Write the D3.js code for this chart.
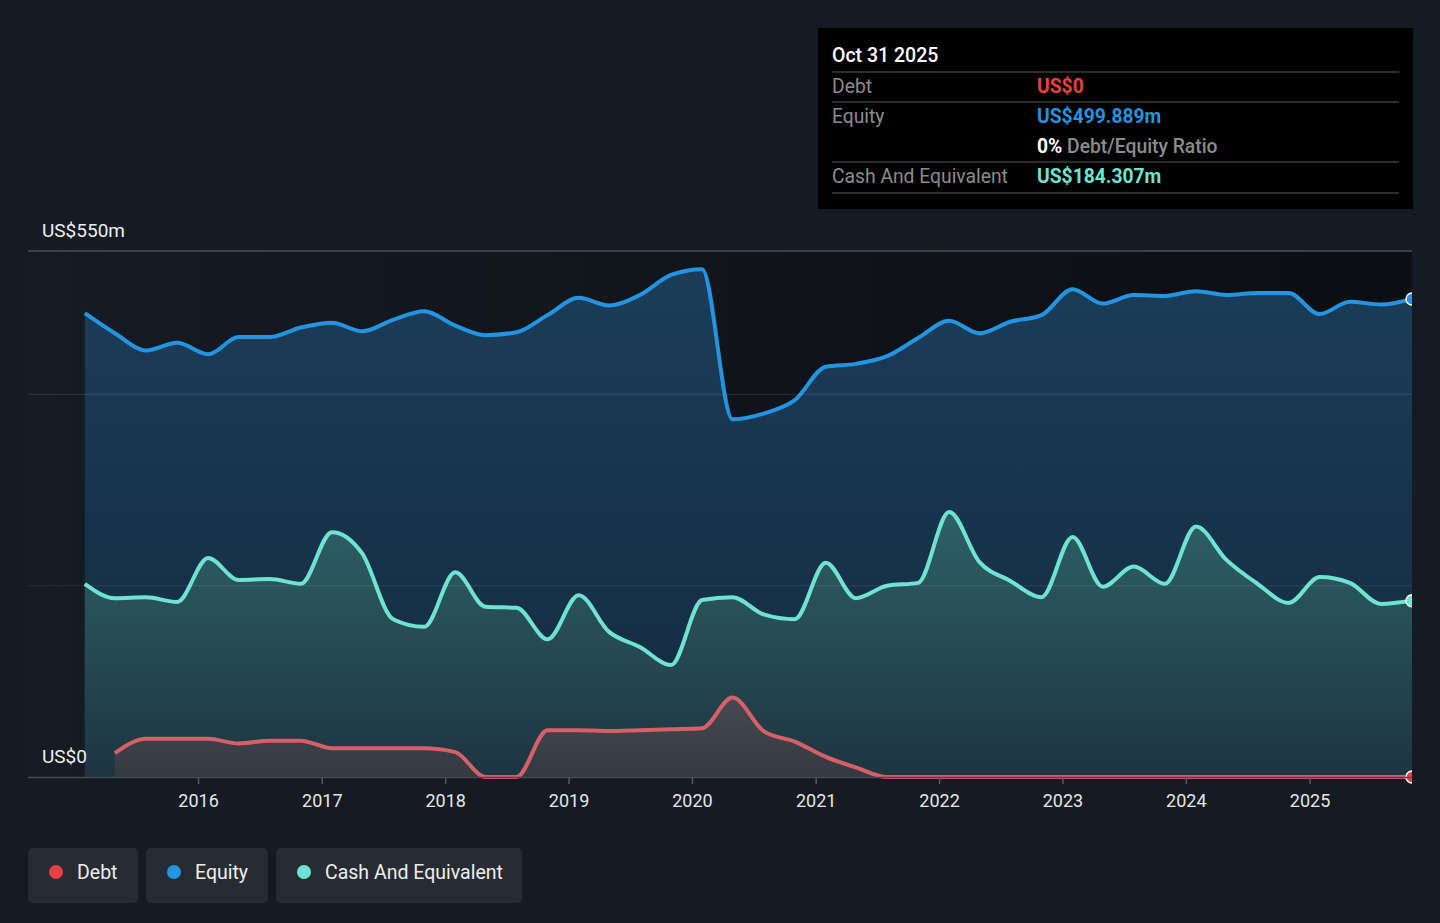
<!DOCTYPE html>
<html><head><meta charset="utf-8">
<script src="https://cdn.jsdelivr.net/npm/d3@7"></script>
<style>
html,body{margin:0;padding:0;background:#151a23;}
svg{display:block;font-family:Roboto,"Noto Sans",sans-serif;}
</style></head>
<body>
<svg id="c" width="1440" height="923"></svg>
<script>
// ---- data ----
const quarters = [
"2015-01-31","2015-04-30","2015-07-31","2015-10-31",
"2016-01-31","2016-04-30","2016-07-31","2016-10-31",
"2017-01-31","2017-04-30","2017-07-31","2017-10-31",
"2018-01-31","2018-04-30","2018-07-31","2018-10-31",
"2019-01-31","2019-04-30","2019-07-31","2019-10-31",
"2020-01-31","2020-04-30","2020-07-31","2020-10-31",
"2021-01-31","2021-04-30","2021-07-31","2021-10-31",
"2022-01-31","2022-04-30","2022-07-31","2022-10-31",
"2023-01-31","2023-04-30","2023-07-31","2023-10-31",
"2024-01-31","2024-04-30","2024-07-31","2024-10-31",
"2025-01-31","2025-04-30","2025-07-31","2025-10-31"];
const equity = [485,464,446,454, 442,460,460,470, 475,466,478,487, 472,462,465,483,
  501,493,504,525, 531,374,380,394, 429,432,440,459, 477,464,476,483,
  510,495,504,503, 508,504,506,506, 484,497,494,499.889];
const cash = [202,187,188,183, 229,206,207,202, 256,234,165,157, 214,178,177,144,
  190,152,136,117, 185,188,170,165, 224,187,200,203, 277,225,205,188,
  251,199,220,202, 262,227,202,182, 209,203,181,184.307];
const debt = [null,25,40,40, 40,35,38,38, 30,30,30,30, 26,0,0,49,
  49,48,49,50, 51,83,48,37, 21,10,0,0, 0,0,0,0,
  0,0,0,0, 0,0,0,0, 0,0,0,0];
const yearTicks = [2016,2017,2018,2019,2020,2021,2022,2023,2024,2025];
const yGridValues = [200,400];
const yLabelValues = [0,550];
const legendItems = ["Debt","Equity","Cash And Equivalent"];

const colors = {debt:"#e64141", debtLine:"#d65f68", equity:"#2394df", cash:"#6fe3d1"};

// ---- scales ----
const svg = d3.select("#c");
const L=28, R=1412, T=251, B=777;
const x = d3.scaleUtc().domain([new Date(Date.UTC(2014,7,16)), new Date(Date.UTC(2025,9,31))]).range([L,R]);
const y = d3.scaleLinear().domain([0,550]).range([B,T]);
const dates = quarters.map(s=>new Date(s+"T00:00:00Z"));

const defs = svg.append("defs");
const bgG = defs.append("linearGradient").attr("id","bgG").attr("x1","0").attr("x2","1").attr("y1","0").attr("y2","0");
bgG.append("stop").attr("offset","0").attr("stop-color","#161b24");
bgG.append("stop").attr("offset","1").attr("stop-color","#0b0e12");
const eqG = defs.append("linearGradient").attr("id","eqG").attr("x1","0").attr("x2","0").attr("y1","0").attr("y2","1");
eqG.append("stop").attr("offset","0").attr("stop-color","#1b3d5a");
eqG.append("stop").attr("offset","1").attr("stop-color","#142a3d");
const caG = defs.append("linearGradient").attr("id","caG").attr("x1","0").attr("x2","0").attr("y1","0").attr("y2","1");
caG.append("stop").attr("offset","0").attr("stop-color","#2e6067");
caG.append("stop").attr("offset","1").attr("stop-color","#1d3540");
const deG = defs.append("linearGradient").attr("id","deG").attr("x1","0").attr("x2","0").attr("y1","0").attr("y2","1");
deG.append("stop").attr("offset","0").attr("stop-color","#454952");
deG.append("stop").attr("offset","1").attr("stop-color","#353941");
defs.append("clipPath").attr("id","clip").append("rect").attr("x",L).attr("y",T-20).attr("width",R-L).attr("height",B-T+40);

// plot background
svg.append("rect").attr("x",L).attr("y",T).attr("width",R-L).attr("height",B-T).attr("fill","url(#bgG)");

const g = svg.append("g").attr("clip-path","url(#clip)");
const curve = d3.curveMonotoneX;
function series(vals){ return dates.map((d,i)=>({d, v: vals[i]})); }
const eqS = series(equity), caS = series(cash), deS = series(debt);
const area = d3.area().defined(p=>p.v!=null).x(p=>x(p.d)).y0(y(0)).y1(p=>y(p.v)).curve(curve);
const line = d3.line().defined(p=>p.v!=null).x(p=>x(p.d)).y(p=>y(p.v)).curve(curve);

g.append("path").attr("d",area(eqS)).attr("fill","url(#eqG)");
g.append("path").attr("d",area(caS)).attr("fill","url(#caG)");
g.append("path").attr("d",area(deS)).attr("fill","url(#deG)");

// grid lines
svg.selectAll(".grid").data(yGridValues).join("line")
  .attr("x1",L).attr("x2",R).attr("y1",d=>y(d)).attr("y2",d=>y(d))
  .attr("stroke","rgba(255,255,255,0.09)").attr("stroke-width",1.2);
svg.append("line").attr("x1",L).attr("x2",R).attr("y1",y(550)).attr("y2",y(550)).attr("stroke","#4a4f57").attr("stroke-width",1.5);
svg.append("line").attr("x1",L).attr("x2",R).attr("y1",y(0)+0.5).attr("y2",y(0)+0.5).attr("stroke","#444952").attr("stroke-width",1.5);

g.append("path").attr("d",line(eqS)).attr("fill","none").attr("stroke",colors.equity).attr("stroke-width",4);
g.append("path").attr("d",line(caS)).attr("fill","none").attr("stroke",colors.cash).attr("stroke-width",4);
g.append("path").attr("d",line(deS)).attr("fill","none").attr("stroke",colors.debtLine).attr("stroke-width",4);

// end dots
const last = dates.length-1;
[[equity,colors.equity],[cash,colors.cash],[debt,colors.debt]].forEach(([vals,c])=>{
  g.append("circle").attr("cx",x(dates[last])).attr("cy",y(vals[last])).attr("r",6)
   .attr("fill",c).attr("stroke","#fff").attr("stroke-width",1.5);
});

// x axis
const xAxis = d3.axisBottom(x).tickValues(yearTicks.map(yv=>new Date(Date.UTC(yv,0,1))))
  .tickFormat(d3.utcFormat("%Y")).tickSize(6).tickPadding(10);
const ax = svg.append("g").attr("transform",`translate(0,${B+1})`).call(xAxis);
ax.select(".domain").remove();
ax.selectAll(".tick line").attr("stroke","#555a62").attr("stroke-width",1.5);
ax.selectAll(".tick text").attr("fill","#e6e6e6").attr("font-size",18).attr("font-family","Roboto");

// y labels
svg.selectAll(".ylab").data(yLabelValues).join("text")
  .attr("x",42).attr("y",d=>y(d)-14).attr("fill","#eeeeee").attr("font-size",19)
  .text(d=>d===0?"US$0":`US$${d}m`);

// tooltip box
const tb = svg.append("g");
tb.append("rect").attr("x",818).attr("y",28).attr("width",595).attr("height",181).attr("fill","#000");
tb.append("text").attr("x",832).attr("y",62).attr("fill","#fff").attr("font-size",19.5).attr("font-weight",500).text("Oct 31 2025");
[72,102,162,193].forEach(yy=>tb.append("line").attr("x1",832).attr("x2",1399).attr("y1",yy).attr("y2",yy).attr("stroke","#3d3d3d").attr("stroke-width",1.5));
const rows = [
  {label:"Debt", value:"US$0", color:colors.debt, y:93},
  {label:"Equity", value:"US$499.889m", color:colors.equity, y:123},
  {label:"Cash And Equivalent", value:"US$184.307m", color:colors.cash, y:183}
];
rows.forEach(r=>{
  tb.append("text").attr("x",832).attr("y",r.y).attr("fill","#8c8c8c").attr("font-size",19.3).text(r.label);
  tb.append("text").attr("x",1037).attr("y",r.y).attr("fill",r.color).attr("font-size",19.3).attr("font-weight",700).text(r.value);
});
const rt = tb.append("text").attr("x",1037).attr("y",153).attr("font-size",19.3).attr("font-weight",700);
rt.append("tspan").attr("fill","#fff").text("0%");
rt.append("tspan").attr("fill","#8c8c8c").attr("font-weight",500).text(" Debt/Equity Ratio");

// legend
const legColors = [colors.debt, colors.equity, colors.cash];
const legX = [28,146,276], legW=[110,122,246];
legendItems.forEach((t,i)=>{
  const lg = svg.append("g");
  lg.append("rect").attr("x",legX[i]).attr("y",848).attr("width",legW[i]).attr("height",55).attr("rx",5).attr("fill","#272c34");
  lg.append("circle").attr("cx",legX[i]+28).attr("cy",872).attr("r",7).attr("fill",legColors[i]);
  lg.append("text").attr("x",legX[i]+49).attr("y",879).attr("fill","#eeeeee").attr("font-size",19.5).text(t);
});
</script>
</body></html>
